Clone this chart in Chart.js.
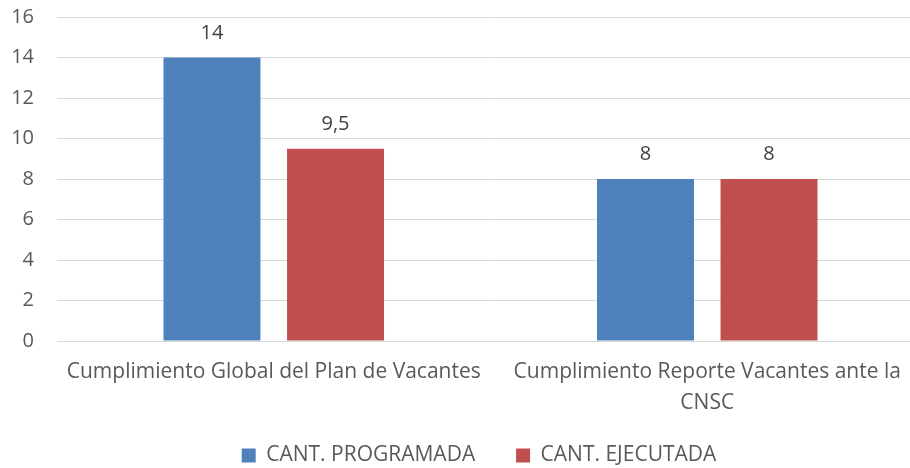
<!DOCTYPE html>
<html>
<head>
<meta charset="utf-8">
<script src="https://cdn.jsdelivr.net/npm/chart.js@4"></script>
<style>
  html, body { margin:0; padding:0; background:#fff; overflow:hidden; }
  #wrap { width:958px; height:476px; }
</style>
</head>
<body>
<div id="wrap"><canvas id="chart"></canvas></div>
<script>
// ================= DATA =================
const categories = ["Cumplimiento Global del Plan de Vacantes", ["Cumplimiento Reporte Vacantes ante la", "CNSC"]];
const programada = [14, 8];
const ejecutada = [9.5, 8];
const seriesNames = ["CANT. PROGRAMADA", "CANT. EJECUTADA"];
const yTicks = [0, 2, 4, 6, 8, 10, 12, 14, 16];

const FONT = "'Open Sans', sans-serif";
const NUM = 20;   // numbers
const LBL = 21;   // text labels
const TXT = "#595959";

// value labels above bars, decimal comma
const valueLabels = {
    id: "valueLabels",
    afterDatasetsDraw(chart){
        const ctx = chart.ctx;
        ctx.save();
        ctx.font = `${NUM}px ${FONT}`;
        ctx.fillStyle = "#404040";
        ctx.textAlign = "center";
        ctx.textBaseline = "alphabetic";
        chart.data.datasets.forEach((ds, i) => {
            chart.getDatasetMeta(i).data.forEach((bar, j) => {
                ctx.fillText(String(ds.data[j]).replace(".", ","), bar.x, bar.y - 19);
            });
        });
        ctx.restore();
    }
};

new Chart(document.getElementById("chart"), {
    type: "bar",
    data: {
        labels: categories,
        datasets: [
            { label: seriesNames[0], data: programada, backgroundColor: "#4F81BD" },
            { label: seriesNames[1], data: ejecutada, backgroundColor: "#C0504D" }
        ]
    },
    options: {
        responsive: true, maintainAspectRatio: false, animation: false,
        categoryPercentage: 0.57, barPercentage: 0.785,
        layout: { padding: { top: 17, right: 0, bottom: 0, left: 0 } },
        plugins: {
            tooltip: { enabled: false },
            legend: {
                position: "bottom",
                labels: {
                    font: { family: FONT, size: LBL }, color: TXT, boxWidth: 14, boxHeight: 14, padding: 30,
                    // a little extra space after the first item
                    generateLabels: chart => Chart.defaults.plugins.legend.labels.generateLabels(chart)
                        .map((l, i) => i === 0 ? { ...l, text: l.text + "  " } : l)
                }
            }
        },
        scales: {
            x: {
                grid: { display: false },
                border: { color: "#D9D9D9" },
                afterFit: s => { s.height = 74; },
                ticks: { font: { family: FONT, size: LBL, lineHeight: 1.45 }, color: TXT, maxRotation: 0, padding: 8 }
            },
            y: {
                min: 0, max: 16,
                afterBuildTicks: s => { s.ticks = yTicks.map(v => ({ value: v })); },
                afterFit: s => { s.width = 57; s.paddingTop = 0; s.paddingBottom = 0; },
                grid: { color: "#D9D9D9", drawTicks: false },
                border: { display: false },
                ticks: { font: { family: FONT, size: NUM }, color: TXT, padding: 23 }
            },
            // empty right margin (plot area runs past the cropped edge)
            yRight: {
                type: "linear", position: "right",
                grid: { display: false }, border: { display: false }, ticks: { display: false },
                afterFit: s => { s.width = 34; s.paddingTop = 0; s.paddingBottom = 0; }
            }
        }
    },
    plugins: [valueLabels]
});
</script>
</body>
</html>
